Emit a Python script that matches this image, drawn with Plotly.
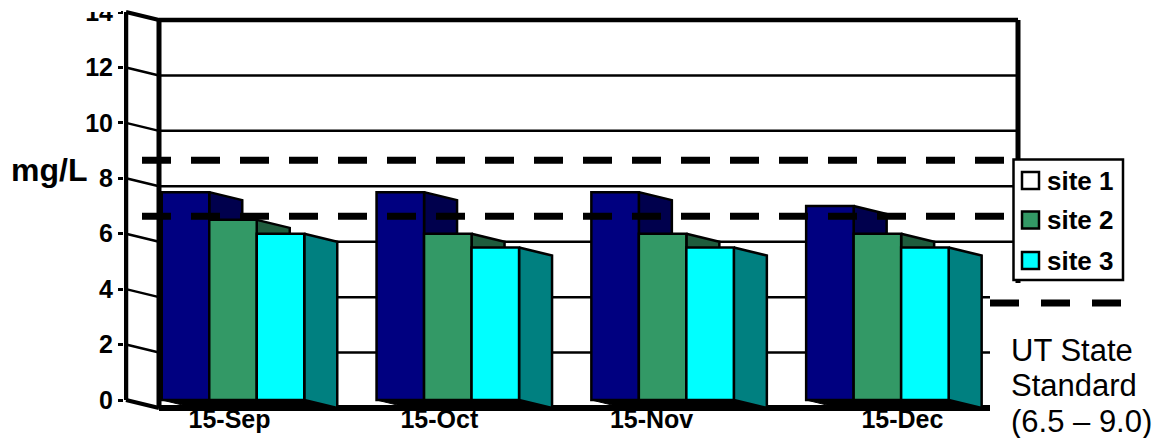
import plotly.graph_objects as go

# Dissolved oxygen readings per sampling date
dates = ["15-Sep", "15-Oct", "15-Nov", "15-Dec"]
sites = ["site 1", "site 2", "site 3"]
site1 = [7.5, 7.5, 7.5, 7.0]
site2 = [6.5, 6.0, 6.0, 6.0]
site3 = [6.0, 5.5, 5.5, 5.5]
y_ticks = [0, 2, 4, 6, 8, 10, 12, 14]
standard_text = ["UT State", "Standard", "(6.5 – 9.0)"]

# Hand-placed dashed standard lines, on the front-axis scale
standard_upper = 8.65
standard_lower = 6.63
standard_key = 3.5

front_colors = ["#000080", "#339966", "#00FFFF"]
side_colors = ["#00004D", "#1F5C3D", "#008080"]
key_colors = ["#FFFFFF", "#339966", "#00FFFF"]

# Paint order: the floor wedge hides the lower ends of the inner side faces,
# while the outermost side face stays in front of it
side_layers = [2, 4, 7]
bar_layers = [3, 5, 8]
FLOOR_LAYER = 6

# Canvas geometry
W, H = 1159, 438
LEFT, ZERO_Y, TOP_Y = 124, 400, 12
PX_PER_GROUP = 214.8
FIRST_GROUP_PX = 233
PX_PER_UNIT = (ZERO_Y - TOP_Y) / 14
FONT = "Liberation Sans, Arial, sans-serif"


def dx(px):
    return px / PX_PER_GROUP


def at(px):
    return (px - FIRST_GROUP_PX) / PX_PER_GROUP


def paper_x(px):
    return (px - LEFT) / (W - LEFT)


def paper_y(px):
    return 1 - px / H


BAR_W = dx(47.5)
DEPTH_X = dx(33)
DEPTH_Y = 8 / PX_PER_UNIT
AXIS_X = at(126)
WALL_X = at(159)
RIGHT_WALL_X = at(1018)
LOWER_GRID_END = at(990)
group_pos = list(range(len(dates)))
label_offset = [dx(-3.5), dx(-8.5), dx(-11), dx(25)]

fig = go.Figure()


def line(xs, ys, width, z, dash=None):
    fig.add_trace(go.Scatter(
        x=xs, y=ys, mode="lines", showlegend=False, hoverinfo="skip",
        zorder=z, line=dict(color="black", width=width, dash=dash),
    ))


# Back wall grid, stepping from the axis along the side wall and across
for v in y_ticks:
    end = RIGHT_WALL_X if v >= 6 else LOWER_GRID_END
    slope_width = {0: 4, 14: 4}.get(v, 2.5)
    run_width = {0: 6, 14: 4.5}.get(v, 2.5)
    line([AXIS_X, WALL_X], [v, v - DEPTH_Y], slope_width, 0)
    line([WALL_X, end], [v - DEPTH_Y, v - DEPTH_Y], run_width, 0)

# Front axis and back wall corners
line([AXIS_X, AXIS_X], [0, 14], 4.5, 0)
line([WALL_X, WALL_X], [-DEPTH_Y, 14 - DEPTH_Y], 5, 0)
line([RIGHT_WALL_X, RIGHT_WALL_X], [4.22, 14 - DEPTH_Y], 5, 0)

# Floor wedge under each cluster
for x0 in group_pos:
    left = x0 - 1.5 * BAR_W
    right = x0 + 1.5 * BAR_W
    fig.add_trace(go.Scatter(
        x=[left, right, right + DEPTH_X, left + DEPTH_X, left],
        y=[0, 0, -DEPTH_Y, -DEPTH_Y, 0],
        mode="lines", fill="toself", fillcolor="black",
        line=dict(color="black", width=1), showlegend=False,
        hoverinfo="skip", zorder=FLOOR_LAYER,
    ))

# Front faces and side faces, painted left to right
for k, values in enumerate([site1, site2, site3]):
    xs = [p + (k - 1) * BAR_W for p in group_pos]
    for xc, v in zip(xs, values):
        r = xc + BAR_W / 2
        fig.add_trace(go.Scatter(
            x=[r, r + DEPTH_X, r + DEPTH_X, r, r],
            y=[v, v - DEPTH_Y, -DEPTH_Y, 0, v],
            mode="lines", fill="toself", fillcolor=side_colors[k],
            line=dict(color="black", width=2.5), showlegend=False,
            hoverinfo="skip", zorder=side_layers[k],
        ))
    fig.add_trace(go.Bar(
        x=xs, y=values, width=BAR_W, name=sites[k], showlegend=False,
        marker=dict(color=front_colors[k], line=dict(color="black", width=2.5)),
        zorder=bar_layers[k],
    ))

# Dashed standard lines
line([at(142), at(1008)], [standard_upper] * 2, 7, 10, "29px,20px")
line([at(142), at(1008)], [standard_lower] * 2, 7, 10, "29px,20px")
line([at(990), at(1125)], [standard_key] * 2, 7, 10, "29px,22px")

shapes = [
    # The page edge trims the top tick label
    dict(type="rect", xref="paper", yref="paper", layer="above",
         x0=paper_x(0), x1=paper_x(121), y0=paper_y(12), y1=paper_y(-2),
         fillcolor="white", line=dict(width=0)),
    # Key panel
    dict(type="rect", xref="paper", yref="paper", layer="above",
         x0=paper_x(1013.5), x1=paper_x(1123), y0=paper_y(280), y1=paper_y(159.5),
         fillcolor="white", line=dict(color="black", width=2.5)),
]
annotations = [
    dict(text="<b>mg/L</b>", xref="paper", yref="paper", x=paper_x(49), y=paper_y(170),
         xanchor="center", yanchor="middle", showarrow=False, font=dict(size=32)),
]
for name, color, row_y in zip(sites, key_colors, [180.5, 220, 260.5]):
    shapes.append(dict(
        type="rect", xref="paper", yref="paper", layer="above",
        x0=paper_x(1022), x1=paper_x(1039), y0=paper_y(row_y + 8.5), y1=paper_y(row_y - 8.5),
        fillcolor=color, line=dict(color="black", width=2.5),
    ))
    annotations.append(dict(
        text=f"<b>{name}</b>", xref="paper", yref="paper", x=paper_x(1045), y=paper_y(row_y),
        xanchor="left", yanchor="middle", showarrow=False, font=dict(size=26),
    ))
for text, row_y in zip(standard_text, [350, 385, 421]):
    annotations.append(dict(
        text=text, xref="paper", yref="paper", x=paper_x(1009), y=paper_y(row_y),
        xanchor="left", yanchor="middle", showarrow=False, font=dict(size=31),
    ))

fig.update_layout(
    width=W, height=H, autosize=False,
    margin=dict(l=LEFT, r=0, t=0, b=0, pad=0, autoexpand=False),
    paper_bgcolor="white", plot_bgcolor="white",
    font=dict(family=FONT, color="black"),
    barmode="overlay", showlegend=False,
    xaxis=dict(
        range=[at(LEFT), at(W)], showgrid=False, zeroline=False, showline=False,
        tickmode="array", tickvals=[p + o for p, o in zip(group_pos, label_offset)],
        ticktext=dates, ticks="", ticklabelposition="inside", ticklabelstandoff=2,
        tickfont=dict(size=25, family=FONT, weight="bold", color="black"),
    ),
    yaxis=dict(
        range=[(ZERO_Y - H) / PX_PER_UNIT, ZERO_Y / PX_PER_UNIT],
        tickmode="array", tickvals=y_ticks,
        showgrid=False, zeroline=False, showline=False,
        ticks="outside", ticklen=5, tickwidth=2.5, tickcolor="black",
        ticklabeloverflow="allow",
        tickfont=dict(size=25, family=FONT, weight="bold", color="black"),
    ),
    shapes=shapes,
    annotations=annotations,
)

fig.write_html("out.html")
